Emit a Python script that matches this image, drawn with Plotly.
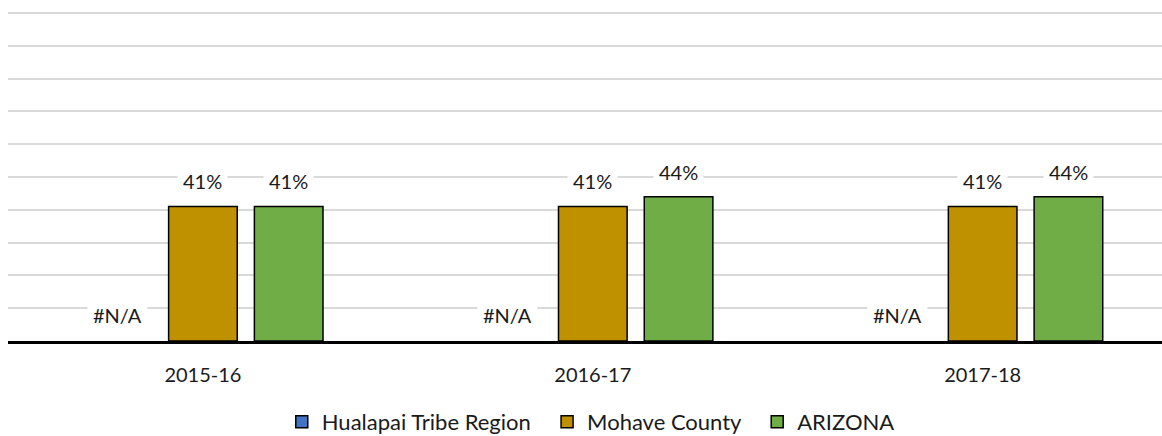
import plotly.graph_objects as go

years = ["2015-16", "2016-17", "2017-18"]
hualapai = [None, None, None]
mohave = [41, 41, 41]
arizona = [41, 44, 44]

series = [
    ("Hualapai Tribe Region", hualapai, "#4472C4"),
    ("Mohave County", mohave, "#BF9000"),
    ("ARIZONA", arizona, "#70AD47"),
]

font_family = "Lato, 'Liberation Sans', sans-serif"
pad = "\u00a0\u00a0"  # a bit of extra room between legend entries

fig = go.Figure()

for i, (name, values, color) in enumerate(series):
    fig.add_trace(
        go.Bar(
            x=years,
            y=values,
            name=name + (pad if i < len(series) - 1 else ""),
            marker=dict(color=color, line=dict(color="black", width=1.5)),
        )
    )

# data labels with white boxes (gridlines break around them, like the original)
slot = 85.5
for i, (name, values, color) in enumerate(series):
    for year, v in zip(years, values):
        fig.add_annotation(
            x=year,
            y=0 if v is None else v,
            xref="x",
            yref="y",
            text="#N/A" if v is None else "{}%".format(v),
            showarrow=False,
            xshift=(i - 1) * slot,
            yshift=26 if v is None else 25,
            yanchor="middle",
            bgcolor="white",
            borderpad=5,
            font=dict(family=font_family, size=20, color="#1a1a1a"),
        )

fig.update_layout(
    width=1162,
    height=436,
    margin=dict(l=8, r=0, t=8, b=95, autoexpand=False),
    paper_bgcolor="white",
    plot_bgcolor="white",
    barmode="group",
    bargap=0.34,
    bargroupgap=0.2,
    font=dict(family=font_family, size=20, color="#1a1a1a"),
    showlegend=True,
    legend=dict(
        orientation="h",
        x=0.505,
        xanchor="center",
        y=-0.243,
        yanchor="middle",
        font=dict(size=22),
        itemwidth=30,
        traceorder="normal",
    ),
    xaxis=dict(
        type="category",
        range=[-0.5, 2.46],
        showline=True,
        linecolor="black",
        linewidth=3,
        ticks="",
        showgrid=False,
        tickfont=dict(size=20),
        ticklabelstandoff=14,
    ),
    yaxis=dict(
        range=[0, 101.5],
        dtick=10,
        showgrid=True,
        gridcolor="#D9D9D9",
        gridwidth=1.5,
        showticklabels=False,
        zeroline=False,
        ticks="",
    ),
)

fig.write_html(
    "out.html",
    config={"displayModeBar": False},
    post_script="document.body.style.margin='0px';",
)
